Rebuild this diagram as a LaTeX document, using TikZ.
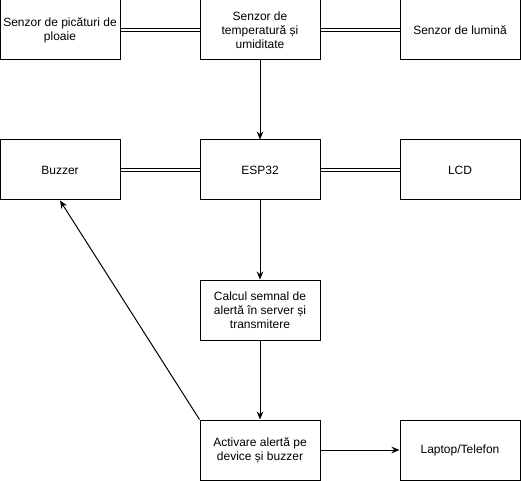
\documentclass[tikz,border=0pt]{standalone}
\usepackage{fontspec}
\setmainfont{Liberation Sans}
\usetikzlibrary{arrows.meta}

\tikzset{
    block/.style={draw, line width=0.75pt, minimum width=90pt, minimum height=45pt,
        align=center, inner sep=1pt, font=\fontsize{9}{10.5}\selectfont},
    link/.style={line width=0.75pt, double, double distance=1.5pt},
    flow/.style={->, line width=0.75pt, >={Stealth[length=6pt, width=5pt]}}
}

\begin{document}
\begin{tikzpicture}[x=0.75pt, y=0.75pt]
    \useasboundingbox (0,0) rectangle (521,-481);

    % --- SENZORI ---
    \node[block] (ploaie) at (60,-30) {Senzor de picături de\\ploaie};
    \node[block] (temp) at (260,-30) {Senzor de\\temperatură și\\umiditate};
    \node[block] (lumina) at (460,-30) {Senzor de lumină};

    % --- CONTROLLER ---
    \node[block] (buzzer) at (60,-170) {Buzzer};
    \node[block] (esp) at (260,-170) {ESP32};
    \node[block] (lcd) at (460,-170) {LCD};

    % --- PROCESARE ---
    \node[block] (calcul) at (260,-310) {Calcul semnal de\\alertă în server și\\transmitere};
    \node[block] (activ) at (260,-450) {Activare alertă pe\\device și buzzer};
    \node[block] (laptop) at (460,-450) {Laptop/Telefon};

    % Legaturi
    \draw[link] (ploaie) -- (temp);
    \draw[link] (temp) -- (lumina);
    \draw[link] (buzzer) -- (esp);
    \draw[link] (esp) -- (lcd);

    \draw[flow] (temp) -- (esp);
    \draw[flow] (esp) -- (calcul);
    \draw[flow] (calcul) -- (activ);
    \draw[flow] (activ) -- (laptop);
    \draw[flow] (activ.north west) -- (buzzer.south);

\end{tikzpicture}
\end{document}
